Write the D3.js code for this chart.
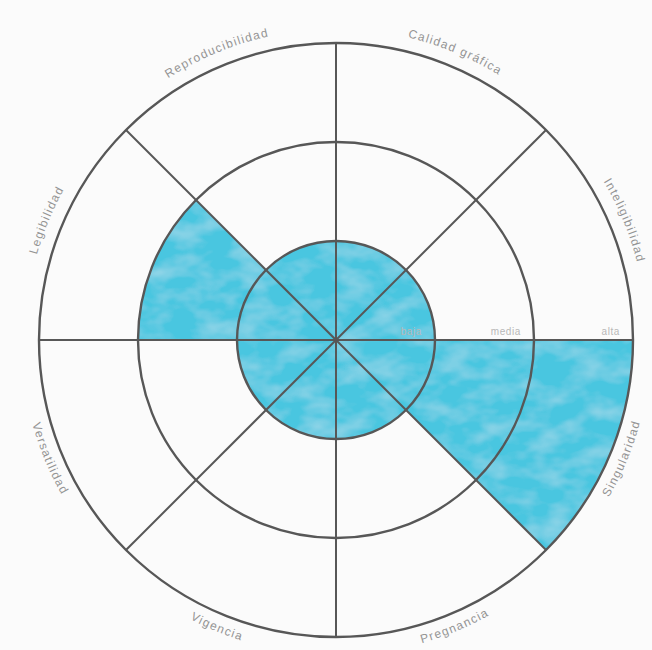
<!DOCTYPE html>
<html>
<head>
<meta charset="utf-8">
<script src="https://cdn.jsdelivr.net/npm/d3@7"></script>
<style>
  html, body { margin: 0; padding: 0; background: #fbfbfb; }
  svg { display: block; }
</style>
</head>
<body>
<svg id="chart" width="652" height="650"></svg>
<script>
// Criteria, clockwise from 12 o'clock
const categories = ["Calidad gráfica", "Inteligibilidad", "Singularidad", "Pregnancia",
                    "Vigencia", "Versatilidad", "Legibilidad", "Reproducibilidad"];
// Rating per criterion: 1 = baja, 2 = media, 3 = alta
const values = [1, 1, 3, 1, 1, 1, 2, 1];
// Ring labels
const levelLabels = ["baja", "media", "alta"];
const levelValues = [1, 2, 3];

const W = 652, H = 650;
const cx = 336, cy = 340;
const R = 297;

const svg = d3.select("#chart");
svg.append("rect").attr("width", W).attr("height", H).attr("fill", "#fbfbfb");

// marker-like texture for the coloured wedges
const defs = svg.append("defs");
const f = defs.append("filter").attr("id", "marker")
  .attr("x", "-5%").attr("y", "-5%").attr("width", "110%").attr("height", "110%");
f.append("feTurbulence").attr("type", "fractalNoise")
  .attr("baseFrequency", "0.03 0.05").attr("numOctaves", 3).attr("seed", 11).attr("result", "noise");
f.append("feColorMatrix").attr("in", "noise").attr("type", "matrix")
  .attr("values", "0 0 0 0 1  0 0 0 0 1  0 0 0 0 1  1.4 0 0 0 -0.55").attr("result", "streaks");
f.append("feComposite").attr("in", "streaks").attr("in2", "SourceGraphic").attr("operator", "in").attr("result", "clipped");
f.append("feComponentTransfer").attr("in", "clipped").attr("result", "soft")
  .append("feFuncA").attr("type", "linear").attr("slope", 0.3);
const m = f.append("feMerge");
m.append("feMergeNode").attr("in", "SourceGraphic");
m.append("feMergeNode").attr("in", "soft");

const g = svg.append("g").attr("transform", `translate(${cx},${cy})`);

const r = d3.scaleLinear().domain([0, 3]).range([0, R]);
const angle = d3.scaleBand().domain(categories).range([0, 2 * Math.PI]).padding(0);

const arc = d3.arc()
  .innerRadius(0)
  .outerRadius(d => r(d.value))
  .startAngle(d => angle(d.cat))
  .endAngle(d => angle(d.cat) + angle.bandwidth());

const data = categories.map((c, i) => ({ cat: c, value: values[i] }));

// wedges
g.append("g").attr("filter", "url(#marker)")
  .selectAll("path").data(data).join("path")
  .attr("d", arc)
  .attr("fill", "#48c6e0");

// rings
g.append("g").selectAll("circle").data(levelValues).join("circle")
  .attr("r", d => r(d))
  .attr("fill", "none")
  .attr("stroke", "#575757")
  .attr("stroke-width", 2.4);

// spokes
g.append("g").selectAll("line").data(categories).join("line")
  .attr("x1", 0).attr("y1", 0)
  .attr("x2", d => R * Math.sin(angle(d)))
  .attr("y2", d => -R * Math.cos(angle(d)))
  .attr("stroke", "#575757")
  .attr("stroke-width", 2);

// ring labels along the right horizontal spoke
g.append("g").selectAll("text").data(levelValues).join("text")
  .attr("x", d => r(d) - 13)
  .attr("y", -5)
  .attr("text-anchor", "end")
  .attr("font-family", "Liberation Sans, Arial, sans-serif")
  .attr("font-size", 10)
  .attr("letter-spacing", 0.6)
  .attr("fill", "#b8b8b8")
  .text((d, i) => levelLabels[i]);

// curved category labels outside the outer ring
const labelArc = (mid, rad, upper) => {
  const span = 0.6;
  const a0 = mid - span, a1 = mid + span;
  const p = a => [rad * Math.sin(a), -rad * Math.cos(a)];
  if (upper) {
    const [x0, y0] = p(a0), [x1, y1] = p(a1);
    return `M${x0},${y0} A${rad},${rad} 0 0 1 ${x1},${y1}`;
  } else {
    const [x0, y0] = p(a1), [x1, y1] = p(a0);
    return `M${x0},${y0} A${rad},${rad} 0 0 0 ${x1},${y1}`;
  }
};

data.forEach((d, i) => {
  const mid = angle(d.cat) + angle.bandwidth() / 2;
  const upper = Math.cos(mid) > 0;
  const rad = upper ? 311 : 315;
  defs.append("path").attr("id", "lbl" + i)
    .attr("d", labelArc(mid, rad, upper))
    .attr("transform", `translate(${cx},${cy})`);
  svg.append("text")
    .attr("font-family", "Liberation Sans, Arial, sans-serif")
    .attr("font-size", 12)
    .attr("letter-spacing", 1.3)
    .attr("fill", "#949494")
    .append("textPath")
    .attr("href", "#lbl" + i)
    .attr("startOffset", "50%")
    .attr("text-anchor", "middle")
    .text(d.cat);
});
</script>
</body>
</html>
